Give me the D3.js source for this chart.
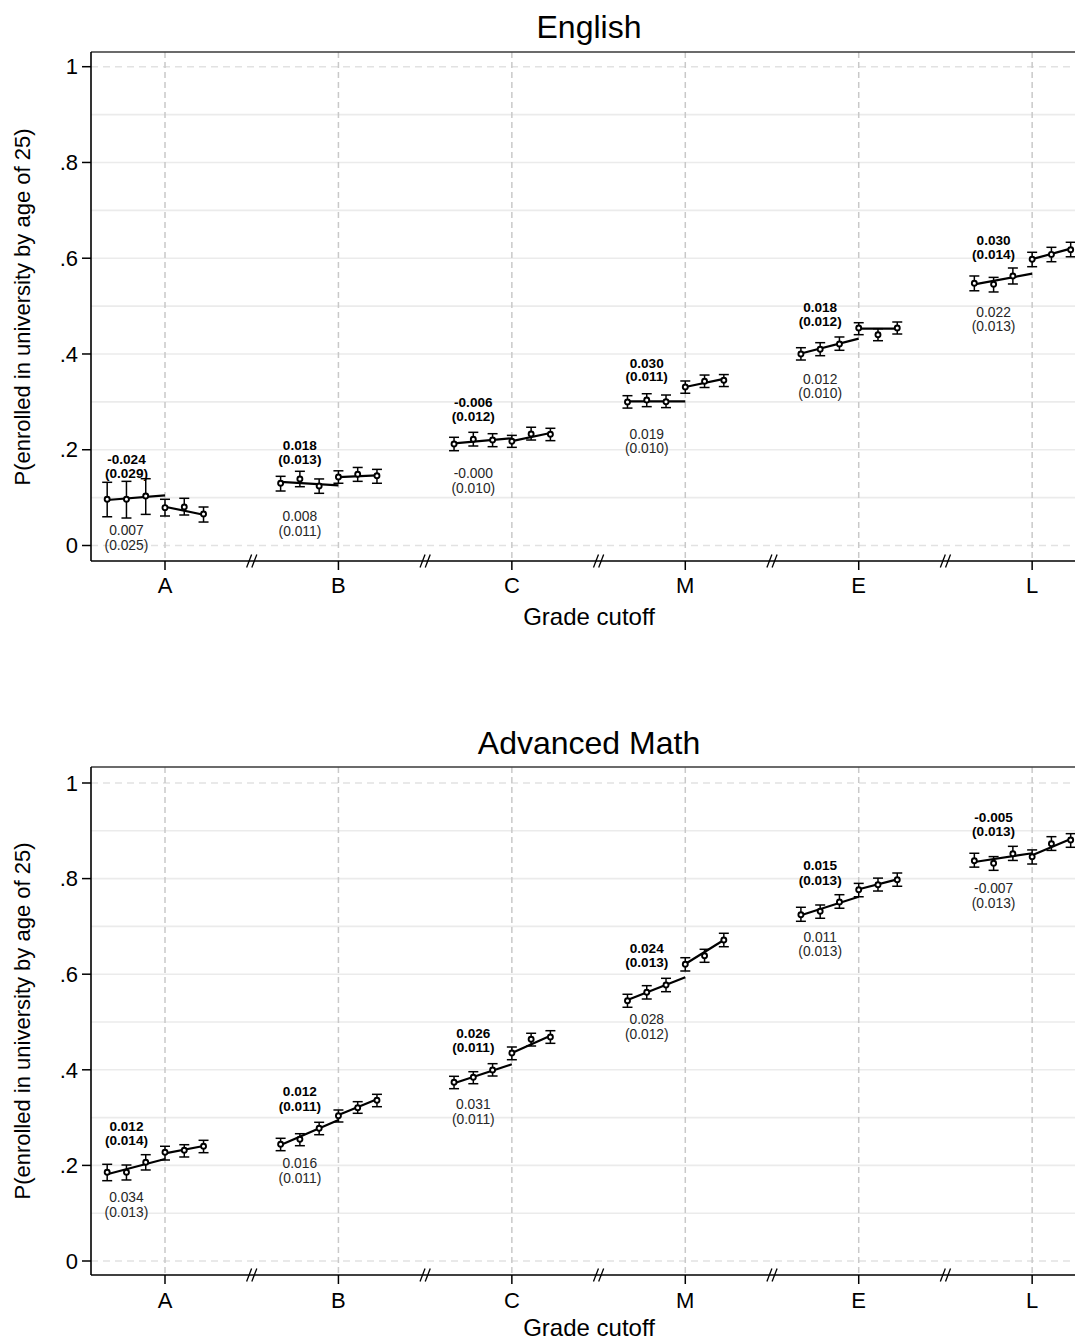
<!DOCTYPE html>
<html><head><meta charset="utf-8">
<script src="https://cdn.jsdelivr.net/npm/d3@7"></script>
<style>body{margin:0;background:#fff}svg{display:block}text{font-family:"Liberation Sans",Arial,Helvetica,sans-serif}</style>
</head><body>
<svg id="chart" width="1075" height="1344"></svg>
<script>
// ---------- data ----------
const cutoffs = ["A","B","C","M","E","L"];
const binOffsets = [-3,-2,-1,0,1,2];
const yTickValues = [0,0.2,0.4,0.6,0.8,1];
const yTickLabels = ["0",".2",".4",".6",".8","1"];
const yGridValues = [0.1,0.2,0.3,0.4,0.5,0.6,0.7,0.8,0.9];

// English: point estimates, CI low, CI high per cutoff (6 bins each)
const engMean = [
  [0.0965,0.0965,0.1034,0.0790,0.0804,0.0658],
  [0.1300,0.1390,0.1243,0.1430,0.1487,0.1458],
  [0.2120,0.2218,0.2203,0.2176,0.2329,0.2322],
  [0.2997,0.3039,0.3003,0.3310,0.3430,0.3450],
  [0.4000,0.4098,0.4208,0.4543,0.4403,0.4543],
  [0.5476,0.5455,0.5629,0.5977,0.6080,0.6178]
];
const engLo = [
  [0.0600,0.0574,0.0650,0.0616,0.0637,0.0490],
  [0.1138,0.1228,0.1090,0.1300,0.1340,0.1300],
  [0.1980,0.2078,0.2064,0.2050,0.2203,0.2190],
  [0.2870,0.2900,0.2880,0.3180,0.3300,0.3320],
  [0.3874,0.3964,0.4077,0.4403,0.4277,0.4417],
  [0.5320,0.5295,0.5462,0.5823,0.5927,0.6030]
];
const engHi = [
  [0.1320,0.1340,0.1395,0.0965,0.0986,0.0804],
  [0.1445,0.1550,0.1390,0.1560,0.1630,0.1590],
  [0.2260,0.2364,0.2335,0.2300,0.2470,0.2448],
  [0.3129,0.3170,0.3143,0.3436,0.3560,0.3570],
  [0.4131,0.4236,0.4355,0.4653,0.4528,0.4668],
  [0.5629,0.5600,0.5796,0.6124,0.6228,0.6333]
];
// fitted lines: [left start, left end (at cutoff), right start (at cutoff), right end]
const engFit = [
  [0.0950,0.1048,0.0810,0.0643],
  [0.1330,0.1257,0.1430,0.1466],
  [0.2134,0.2240,0.2180,0.2350],
  [0.3010,0.3010,0.3310,0.3480],
  [0.4010,0.4320,0.4530,0.4530],
  [0.5455,0.5677,0.5980,0.6200]
];
const engJump = ["-0.024","0.018","-0.006","0.030","0.018","0.030"];
const engJumpSE = ["(0.029)","(0.013)","(0.012)","(0.011)","(0.012)","(0.014)"];
const engSlope = ["0.007","0.008","-0.000","0.019","0.012","0.022"];
const engSlopeSE = ["(0.025)","(0.011)","(0.010)","(0.010)","(0.010)","(0.013)"];

// Advanced Math
const mathMean = [
  [0.1856,0.1856,0.2065,0.2274,0.2316,0.2400],
  [0.2441,0.2546,0.2776,0.3040,0.3207,0.3362],
  [0.3738,0.3843,0.3996,0.4351,0.4638,0.4686],
  [0.5446,0.5621,0.5774,0.6207,0.6387,0.6715],
  [0.7245,0.7316,0.7510,0.7768,0.7872,0.7977],
  [0.8375,0.8320,0.8520,0.8458,0.8730,0.8808]
];
const mathLo = [
  [0.1680,0.1695,0.1904,0.2113,0.2176,0.2266],
  [0.2308,0.2412,0.2642,0.2908,0.3090,0.3228],
  [0.3605,0.3709,0.3870,0.4211,0.4498,0.4554],
  [0.5308,0.5481,0.5634,0.6067,0.6249,0.6575],
  [0.7107,0.7170,0.7380,0.7620,0.7740,0.7840],
  [0.8240,0.8173,0.8380,0.8305,0.8590,0.8655]
];
const mathHi = [
  [0.2023,0.2008,0.2224,0.2400,0.2433,0.2525],
  [0.2567,0.2663,0.2902,0.3159,0.3333,0.3487],
  [0.3864,0.3960,0.4128,0.4477,0.4764,0.4818],
  [0.5580,0.5760,0.5914,0.6345,0.6521,0.6856],
  [0.7400,0.7448,0.7663,0.7900,0.8010,0.8117],
  [0.8530,0.8460,0.8675,0.8600,0.8877,0.8940]
];
const mathFit = [
  [0.1814,0.2134,0.2253,0.2406],
  [0.2427,0.2950,0.3054,0.3383],
  [0.3718,0.4115,0.4350,0.4713],
  [0.5460,0.5935,0.6213,0.6715],
  [0.7232,0.7620,0.7776,0.7985],
  [0.8347,0.8530,0.8490,0.8828]
];
const mathJump = ["0.012","0.012","0.026","0.024","0.015","-0.005"];
const mathJumpSE = ["(0.014)","(0.011)","(0.011)","(0.013)","(0.013)","(0.013)"];
const mathSlope = ["0.034","0.016","0.031","0.028","0.011","-0.007"];
const mathSlopeSE = ["(0.013)","(0.011)","(0.011)","(0.012)","(0.013)","(0.013)"];

// ---------- drawing ----------
const svg = d3.select("#chart");
svg.append("rect").attr("width",1075).attr("height",1344).attr("fill","#fff");

const GROUP_SPAN = 9;
const x = d3.scaleLinear().domain([-3.84, 48]).range([91, 91 + 51.84*19.27]);
const xLeft = 91, xRight = 1075;

function drawPanel(cfg){
  const g = svg.append("g");
  const y = d3.scaleLinear().domain([0,1]).range([cfg.y0, cfg.y1]);

  // horizontal grid
  g.selectAll(".hg").data(yGridValues).join("line")
    .attr("x1",xLeft).attr("x2",xRight)
    .attr("y1",d=>y(d)).attr("y2",d=>y(d))
    .attr("stroke","#ebebeb").attr("stroke-width",1.6);
  g.selectAll(".hd").data([0,1]).join("line")
    .attr("x1",xLeft).attr("x2",xRight)
    .attr("y1",d=>y(d)).attr("y2",d=>y(d))
    .attr("stroke","#e2e2e2").attr("stroke-width",1.6).attr("stroke-dasharray","7,5");
  // vertical dashed cutoff lines
  g.selectAll(".vd").data(cutoffs).join("line")
    .attr("x1",(d,i)=>x(i*GROUP_SPAN)).attr("x2",(d,i)=>x(i*GROUP_SPAN))
    .attr("y1",cfg.frameTop).attr("y2",cfg.axisY)
    .attr("stroke","#c9c9c9").attr("stroke-width",1.5).attr("stroke-dasharray","6,4");

  cutoffs.forEach((c,gi)=>{
    const base = gi*GROUP_SPAN;
    const f = cfg.fit[gi];
    // fit lines
    g.append("line").attr("x1",x(base+binOffsets[0])).attr("x2",x(base))
      .attr("y1",y(f[0])).attr("y2",y(f[1])).attr("stroke","#000").attr("stroke-width",2.2);
    g.append("line").attr("x1",x(base)).attr("x2",x(base+binOffsets[5]))
      .attr("y1",y(f[2])).attr("y2",y(f[3])).attr("stroke","#000").attr("stroke-width",2.2);
    // error bars and markers
    const pts = binOffsets.map((k,j)=>({u:base+k, m:cfg.mean[gi][j], lo:cfg.lo[gi][j], hi:cfg.hi[gi][j]}));
    const eb = g.append("g").attr("stroke","#000").attr("stroke-width",1.5);
    pts.forEach(p=>{
      const px = x(p.u);
      eb.append("line").attr("x1",px).attr("x2",px).attr("y1",y(p.lo)).attr("y2",y(p.hi));
      eb.append("line").attr("x1",px-5).attr("x2",px+5).attr("y1",y(p.lo)).attr("y2",y(p.lo));
      eb.append("line").attr("x1",px-5).attr("x2",px+5).attr("y1",y(p.hi)).attr("y2",y(p.hi));
    });
    g.selectAll(null).data(pts).join("circle")
      .attr("cx",p=>x(p.u)).attr("cy",p=>y(p.m)).attr("r",2.5)
      .attr("fill","#fff").attr("stroke","#000").attr("stroke-width",1.9);
    // annotations
    const midY = (y(f[0]) + y(f[1]))/2;
    const tx = x(base-2);
    const t1 = g.append("g").attr("font-weight","bold").attr("font-size","13.6px").attr("text-anchor","middle").attr("fill","#000");
    t1.append("text").attr("x",tx).attr("y",midY+cfg.b1).attr("dy","0.35em").text(cfg.jump[gi]);
    t1.append("text").attr("x",tx).attr("y",midY+cfg.b2).attr("dy","0.35em").text(cfg.jumpSE[gi]);
    const t2 = g.append("g").attr("font-size","13.8px").attr("text-anchor","middle").attr("fill","#262626");
    t2.append("text").attr("x",tx).attr("y",midY+cfg.r1).attr("dy","0.35em").text(cfg.slope[gi]);
    t2.append("text").attr("x",tx).attr("y",midY+cfg.r2).attr("dy","0.35em").text(cfg.slopeSE[gi]);
  });

  // frame top
  g.append("line").attr("x1",xLeft).attr("x2",xRight).attr("y1",cfg.frameTop).attr("y2",cfg.frameTop)
    .attr("stroke","#3a3a3a").attr("stroke-width",1.5);
  // y axis
  g.append("line").attr("x1",xLeft).attr("x2",xLeft).attr("y1",cfg.frameTop).attr("y2",cfg.axisY)
    .attr("stroke","#000").attr("stroke-width",1.6);
  g.selectAll(".yt").data(yTickValues).join("line")
    .attr("x1",xLeft-9).attr("x2",xLeft).attr("y1",d=>y(d)).attr("y2",d=>y(d))
    .attr("stroke","#000").attr("stroke-width",1.5);
  g.selectAll(".ytl").data(yTickValues).join("text")
    .attr("x",xLeft-13).attr("y",d=>y(d)).attr("dy","0.35em").attr("text-anchor","end")
    .attr("font-size","22px").attr("fill","#000").text((d,i)=>yTickLabels[i]);
  // x axis
  g.append("line").attr("x1",xLeft).attr("x2",xRight).attr("y1",cfg.axisY).attr("y2",cfg.axisY)
    .attr("stroke","#000").attr("stroke-width",1.6);
  g.selectAll(".xt").data(cutoffs).join("line")
    .attr("x1",(d,i)=>x(i*GROUP_SPAN)).attr("x2",(d,i)=>x(i*GROUP_SPAN))
    .attr("y1",cfg.axisY).attr("y2",cfg.axisY+9).attr("stroke","#000").attr("stroke-width",1.5);
  g.selectAll(".xtl").data(cutoffs).join("text")
    .attr("x",(d,i)=>x(i*GROUP_SPAN)).attr("y",cfg.tickLabelY).attr("dy","0.35em")
    .attr("text-anchor","middle").attr("font-size","22px").attr("fill","#000").text(d=>d);
  // break marks
  d3.range(cutoffs.length-1).forEach(i=>{
    const cx = x(i*GROUP_SPAN + GROUP_SPAN/2);
    [-2.6,2.6].forEach(dx=>{
      g.append("line").attr("x1",cx+dx-2.5).attr("x2",cx+dx+2.5)
        .attr("y1",cfg.axisY+6.5).attr("y2",cfg.axisY-6.5)
        .attr("stroke","#000").attr("stroke-width",1.3);
    });
  });
  // titles
  g.append("text").attr("x",589).attr("y",cfg.titleY).attr("dy","0.35em").attr("text-anchor","middle")
    .attr("font-size","32px").attr("fill","#000").text(cfg.title);
  g.append("text").attr("x",589).attr("y",cfg.xTitleY).attr("dy","0.35em").attr("text-anchor","middle")
    .attr("font-size","24px").attr("fill","#000").text("Grade cutoff");
  g.append("text").attr("transform",`translate(22,${cfg.yLabelCenter}) rotate(-90)`).attr("dy","0.35em")
    .attr("text-anchor","middle").attr("font-size","22px").attr("fill","#000")
    .text("P(enrolled in university by age of 25)");
}

drawPanel({title:"English", titleY:27, frameTop:52, axisY:561, y0:545.5, y1:66.7, tickLabelY:585, xTitleY:617, yLabelCenter:307,
  mean:engMean, lo:engLo, hi:engHi, fit:engFit, jump:engJump, jumpSE:engJumpSE, slope:engSlope, slopeSE:engSlopeSE,
  b1:-38.6, b2:-24.7, r1:32.8, r2:47.2});
drawPanel({title:"Advanced Math", titleY:743, frameTop:767, axisY:1275, y0:1261, y1:783, tickLabelY:1300, xTitleY:1328, yLabelCenter:1021,
  mean:mathMean, lo:mathLo, hi:mathHi, fit:mathFit, jump:mathJump, jumpSE:mathJumpSE, slope:mathSlope, slopeSE:mathSlopeSE,
  b1:-40.8, b2:-26.2, r1:30.7, r2:45.5});
</script>
</body></html>
